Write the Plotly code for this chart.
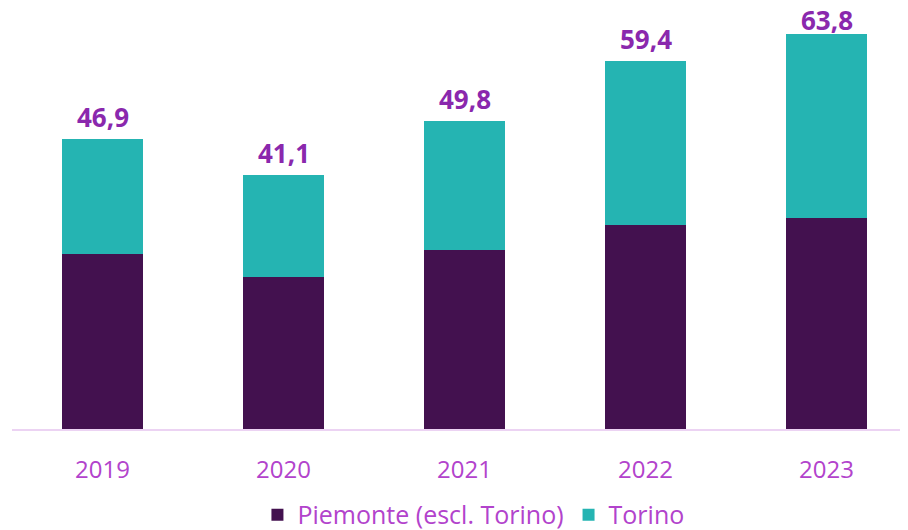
import plotly.graph_objects as go

years = ["2019", "2020", "2021", "2022", "2023"]
piemonte = [28.2, 24.6, 29.0, 33.0, 34.1]
torino = [18.7, 16.5, 20.8, 26.4, 29.7]
totals = [46.9, 41.1, 49.8, 59.4, 63.8]

FONT = "Open Sans"
Y_MAX = 67.7
HEIGHT, M_T, M_B = 522, 2, 101
px_per_unit = (HEIGHT - M_T - M_B) / Y_MAX

fig = go.Figure()
fig.add_trace(go.Bar(x=years, y=piemonte, name="Piemonte (escl. Torino)",
                     marker=dict(color="#43114f", line=dict(width=0))))
fig.add_trace(go.Bar(x=years, y=torino, name="Torino",
                     marker=dict(color="#25b4b2", line=dict(width=0))))

for i, tot in enumerate(totals):
    bar_top_px = M_T + (Y_MAX - tot) * px_per_unit
    shift = min(3, bar_top_px - 31)
    fig.add_annotation(x=i, y=tot, text=f"<b>{tot:.1f}</b>".replace(".", ","),
                       showarrow=False, yanchor="bottom", yshift=shift, borderpad=0,
                       font=dict(family=FONT, size=26, color="#8a28ad"))

fig.update_layout(
    width=900, height=HEIGHT,
    barmode="stack", bargap=0.557,
    margin=dict(l=4, r=0, t=M_T, b=M_B, autoexpand=False),
    plot_bgcolor="white", paper_bgcolor="white",
    font=dict(family=FONT, size=24, color="#b243cc"),
    xaxis=dict(type="category", range=[-0.5, 4.45], showline=True, linecolor="#ecd3f3",
               linewidth=2, ticks="", tickfont=dict(size=24, color="#b243cc"),
               ticklabelstandoff=18, automargin=False),
    yaxis=dict(range=[0, Y_MAX], visible=False, automargin=False),
    legend=dict(orientation="h", x=0.515, xanchor="center", y=-0.205, yanchor="middle",
                font=dict(size=25, color="#b243cc"), traceorder="normal",
                itemwidth=30),
    showlegend=True,
)
fig.write_html("out.html")
